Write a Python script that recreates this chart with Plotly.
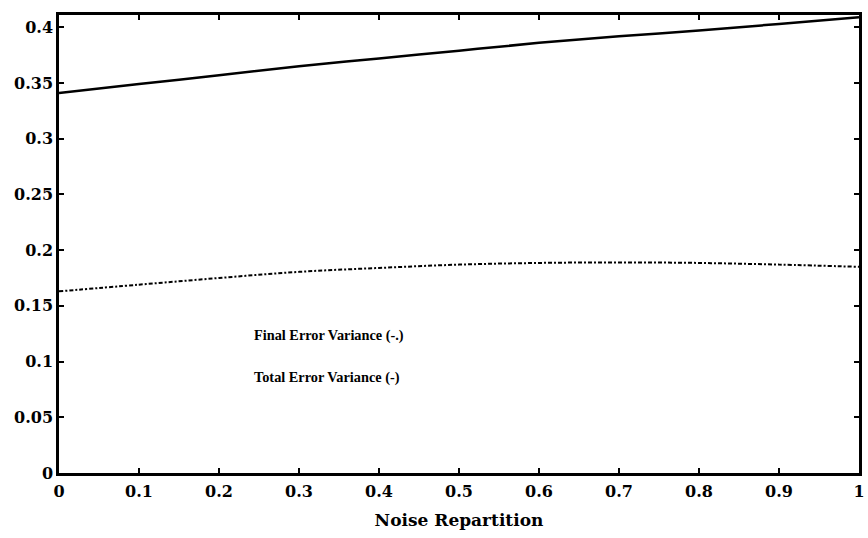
import plotly.graph_objects as go

noise_repartition = [0.0, 0.1, 0.2, 0.3, 0.4, 0.5, 0.6, 0.7, 0.8, 0.9, 1.0]
total_error_variance = [0.341, 0.349, 0.357, 0.365, 0.372, 0.379, 0.386, 0.392, 0.397, 0.403, 0.409]
final_error_variance = [0.163, 0.169, 0.175, 0.1805, 0.184, 0.187, 0.1885, 0.189, 0.1885, 0.187, 0.185]

x_ticks = [0, 0.1, 0.2, 0.3, 0.4, 0.5, 0.6, 0.7, 0.8, 0.9, 1]
y_ticks = [0, 0.05, 0.1, 0.15, 0.2, 0.25, 0.3, 0.35, 0.4]

tick_family = "DejaVu Serif"
text_family = "Liberation Serif"

fig = go.Figure()
fig.add_trace(go.Scatter(
    x=noise_repartition, y=total_error_variance, mode="lines",
    line=dict(color="black", width=2.5, shape="spline"),
    showlegend=False, hoverinfo="skip"))
fig.add_trace(go.Scatter(
    x=noise_repartition, y=final_error_variance, mode="lines",
    line=dict(color="black", width=2, dash="4px,2px,2px,2px", shape="spline"),
    showlegend=False, hoverinfo="skip"))

axis_common = dict(
    showline=True, linecolor="black", linewidth=2.5, mirror="ticks",
    ticks="inside", ticklen=5, tickwidth=1.5, tickcolor="black",
    showgrid=False, zeroline=False,
    tickfont=dict(family=tick_family, size=16, color="black", weight="bold"),
)

fig.update_xaxes(range=[0, 1], tickvals=x_ticks, ticklabelstandoff=2,
                 title=dict(text="Noise Repartition", standoff=15,
                            font=dict(family=tick_family, size=17, color="black", weight="bold")),
                 **axis_common)
fig.update_yaxes(range=[0, 0.411], tickvals=y_ticks, ticklabelstandoff=0, **axis_common)

fig.add_annotation(x=0.2416, y=0.1238, xref="x", yref="y", xanchor="left", yanchor="middle",
                   text="Final Error Variance (-.)", showarrow=False,
                   font=dict(family=text_family, size=14.3, color="black", weight="bold"))
fig.add_annotation(x=0.2416, y=0.0861, xref="x", yref="y", xanchor="left", yanchor="middle",
                   text="Total Error Variance (-)", showarrow=False,
                   font=dict(family=text_family, size=14.3, color="black", weight="bold"))

fig.update_layout(
    width=868, height=538,
    margin=dict(l=59, r=3, t=15, b=65),
    plot_bgcolor="white", paper_bgcolor="white",
)

fig.write_html("out.html")
